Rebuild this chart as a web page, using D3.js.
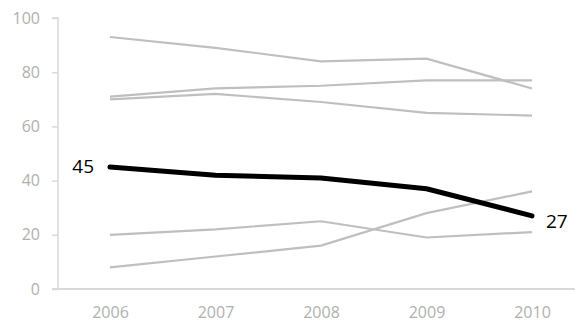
<!DOCTYPE html>
<html>
<head>
<meta charset="utf-8">
<script src="https://cdn.jsdelivr.net/npm/d3@7"></script>
<style>
  body { margin: 0; background: #fff; }
  svg text { font-family: "Open Sans", "Noto Sans", sans-serif; }
</style>
</head>
<body>
<div id="chart"></div>
<script>
var years = ["2006", "2007", "2008", "2009", "2010"];
var yTicks = [0, 20, 40, 60, 80, 100];

// grey background series
var series1 = [93, 89, 84, 85, 74];
var series2 = [71, 74, 75, 77, 77];
var series3 = [70, 72, 69, 65, 64];
var series5 = [20, 22, 25, 19, 21];
var series6 = [8, 12, 16, 28, 36];
// highlighted series
var focus = [45, 42, 41, 37, 27];

var width = 581, height = 325;
var svg = d3.select("#chart").append("svg")
  .attr("width", width)
  .attr("height", height);

var x = d3.scalePoint().domain(years).range([110, 532]);
var y = d3.scaleLinear().domain([0, 100]).range([289, 18]);

// y axis
var yAxis = svg.append("g")
  .attr("transform", "translate(58,0)")
  .call(d3.axisLeft(y).tickValues(yTicks).tickSize(6).tickPadding(12));
yAxis.select(".domain").attr("stroke", "#d9d9d9").attr("stroke-width", 1.5)
  .attr("d", "M-6," + y(100) + "H0V" + y(0));
yAxis.selectAll(".tick line").attr("stroke", "#d9d9d9").attr("stroke-width", 1.5);
yAxis.selectAll(".tick text").attr("fill", "#b0b0b0").style("font-size", "16px");

// x axis
var xAxis = svg.append("g")
  .attr("transform", "translate(0,289)")
  .call(d3.axisBottom(x).tickSize(0).tickPadding(18));
xAxis.select(".domain").attr("stroke", "#d9d9d9").attr("stroke-width", 2)
  .attr("d", "M52,0H575");
xAxis.selectAll(".tick text").attr("fill", "#b0b0b0").style("font-size", "16px");

var line = d3.line()
  .x(function(d, i) { return x(years[i]); })
  .y(function(d) { return y(d); });

var greys = [series1, series2, series3, series5, series6];
svg.append("g").selectAll("path")
  .data(greys)
  .enter().append("path")
  .attr("d", line)
  .attr("fill", "none")
  .attr("stroke", "#bfbfbf")
  .attr("stroke-width", 2.2);

svg.append("path")
  .attr("d", line(focus))
  .attr("fill", "none")
  .attr("stroke", "#000")
  .attr("stroke-width", 5)
  .attr("stroke-linejoin", "round")
  .attr("stroke-linecap", "round");

svg.append("text")
  .attr("x", x(years[0]) - 16)
  .attr("y", y(focus[0]) - 1)
  .attr("dy", "0.35em")
  .attr("text-anchor", "end")
  .style("font-size", "19px")
  .text(focus[0]);

svg.append("text")
  .attr("x", x(years[years.length - 1]) + 14)
  .attr("y", y(focus[focus.length - 1]) + 6)
  .attr("dy", "0.35em")
  .attr("text-anchor", "start")
  .style("font-size", "19px")
  .text(focus[focus.length - 1]);
</script>
</body>
</html>
